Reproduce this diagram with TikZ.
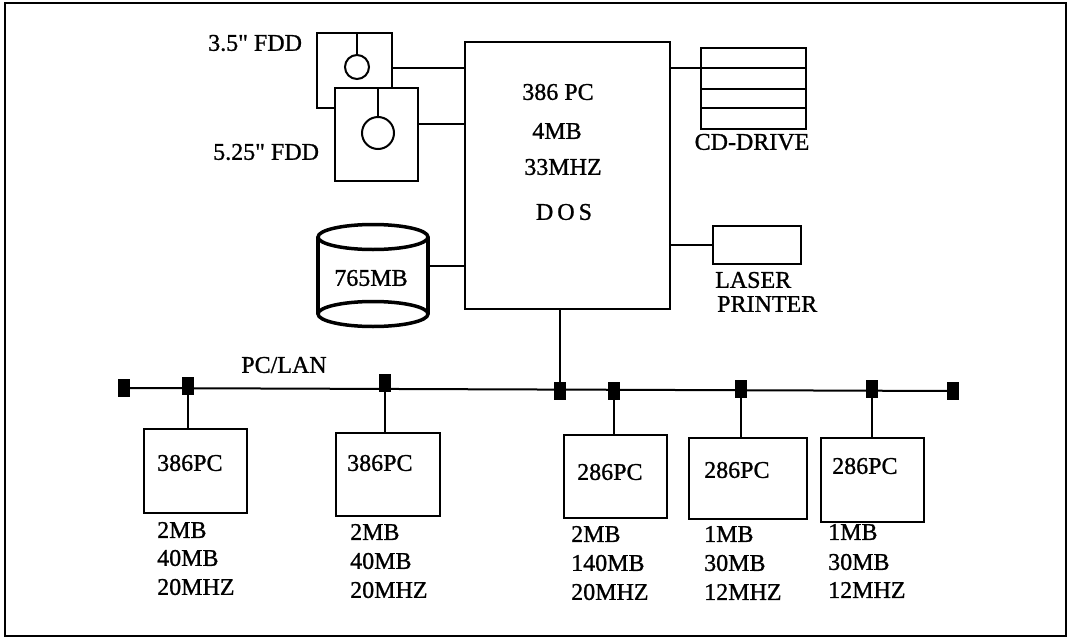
\documentclass[tikz,border=0pt]{standalone}
\usepackage{fontspec}
\setmainfont[FakeBold=1]{Liberation Serif}
\newfontfamily\rawserif[Ligatures=TeXOff,FakeBold=1]{Liberation Serif}
\begin{document}
\begin{tikzpicture}[x=1pt,y=-1pt,
  box/.style={draw,line width=2pt,fill=white,inner sep=0pt,anchor=north west},
  txt/.style={inner sep=0pt,font=\fontsize{24}{28}\selectfont},
  term/.style={fill=black,draw=none,minimum width=12pt,minimum height=18pt,inner sep=0pt},
  conn/.style={line width=2pt},
  thick line/.style={line width=3.5pt}]
\useasboundingbox (0,0) rectangle (1072,643);
\draw[line width=2pt] (5,3) rectangle (1066,636);

% floppy drives
\node[box,minimum width=75pt,minimum height=75pt] (fdd1) at (316,32) {};
\draw[conn] (357,32) -- (357,55);
\draw[conn] (357,67) circle (12);
\node[box,minimum width=83pt,minimum height=93pt] (fdd2) at (334,87) {};
\draw[conn] (378,87) -- (378,117);
\draw[conn] (378,133) circle (16);
\node[txt,anchor=west] (l35) at (208,43) {3.5{\rawserif"} FDD};
\node[txt,anchor=west] (l525) at (213,152) {5.25{\rawserif"} FDD};

% main PC
\node[box,minimum width=205pt,minimum height=267pt] (main) at (464,41) {};
\node[txt] (m1) at (558,92) {386 PC};
\node[txt] (m2) at (557,131) {4MB};
\node[txt] (m3) at (563,167) {33MHZ};
\node[txt] (m4) at (564,212) {D\,O\,S};

\draw[conn] ([yshift=2.5pt]fdd1.east) -- ([yshift=2.5pt]fdd1.east -| main.west);
\draw[conn] ([yshift=10.5pt]fdd2.east) -- ([yshift=10.5pt]fdd2.east -| main.west);

% CD drive
\node[box,minimum width=105pt,minimum height=81pt] (cd) at (700,47) {};
\draw[conn] (700,68) -- (805,68);
\draw[conn] (700,89) -- (805,89);
\draw[conn] (700,108) -- (805,108);
\draw[conn] (main.east |- 0,68) -- (cd.west |- 0,68);
\node[txt] (lcd) at (752,142) {CD-DRIVE};

% laser printer
\node[box,minimum width=88pt,minimum height=38pt] (lp) at (712,225) {};
\draw[conn] (lp.west) -- (lp.west -| main.east);
\node[txt,anchor=west] (llp1) at (715,280) {LASER};
\node[txt,anchor=west] (llp2) at (717,304) {PRINTER};

% disk cylinder
\node[inner sep=0pt,minimum width=110pt,minimum height=102pt] (disk) at (373,276) {};
\draw[thick line] (318,237) -- (318,314);
\draw[thick line] (428,237) -- (428,314);
\draw[thick line] (373,237) ellipse (55 and 12.5);
\draw[thick line,fill=white] (373,314) ellipse (55 and 12.5);
\node[txt] (ldisk) at (371,278) {765MB};
\draw[conn] ([yshift=10pt]disk.east) -- ([yshift=10pt]disk.east -| main.west);

% LAN bus
\node[term] (t0) at (124,388) {};
\node[term] (t1) at (188,386) {};
\node[term] (t2) at (385,383) {};
\node[term] (t3) at (560,391) {};
\node[term] (t4) at (614,391) {};
\node[term] (t5) at (741,389) {};
\node[term] (t6) at (872,389) {};
\node[term] (t7) at (953,391) {};
\draw[conn] (t0.center) -- (t7.center);
\draw[conn] (main.south -| t3) -- (t3);
\node[txt] (llan) at (284,365) {PC/LAN};

% workstations
\node[box,minimum width=103pt,minimum height=84pt] (pc1) at (143,428) {};
\node[box,minimum width=104pt,minimum height=83pt] (pc2) at (335,432) {};
\node[box,minimum width=103pt,minimum height=83pt] (pc3) at (563,434) {};
\node[box,minimum width=118pt,minimum height=81pt] (pc4) at (688,437) {};
\node[box,minimum width=103pt,minimum height=84pt] (pc5) at (820,437) {};
\draw[conn] (t1) -- (t1 |- pc1.north);
\draw[conn] (t2) -- (t2 |- pc2.north);
\draw[conn] (t4) -- (t4 |- pc3.north);
\draw[conn] (t5) -- (t5 |- pc4.north);
\draw[conn] (t6) -- (t6 |- pc5.north);

\node[txt,anchor=west] (n1) at (157,463) {386PC};
\node[txt,anchor=west] (n2) at (347,463) {386PC};
\node[txt,anchor=west] (n3) at (577,472) {286PC};
\node[txt,anchor=west] (n4) at (704,470) {286PC};
\node[txt,anchor=west] (n5) at (832,466) {286PC};

\node[txt,anchor=west] (s1a) at (157,530) {2MB};
\node[txt,anchor=west] (s1b) at (157,558) {40MB};
\node[txt,anchor=west] (s1c) at (157,587) {20MHZ};
\node[txt,anchor=west] (s2a) at (350,532) {2MB};
\node[txt,anchor=west] (s2b) at (350,561) {40MB};
\node[txt,anchor=west] (s2c) at (350,590) {20MHZ};
\node[txt,anchor=west] (s3a) at (571,534) {2MB};
\node[txt,anchor=west] (s3b) at (571,563) {140MB};
\node[txt,anchor=west] (s3c) at (571,592) {20MHZ};
\node[txt,anchor=west] (s4a) at (704,534) {1MB};
\node[txt,anchor=west] (s4b) at (704,563) {30MB};
\node[txt,anchor=west] (s4c) at (704,592) {12MHZ};
\node[txt,anchor=west] (s5a) at (828,532) {1MB};
\node[txt,anchor=west] (s5b) at (828,562) {30MB};
\node[txt,anchor=west] (s5c) at (828,590) {12MHZ};
\end{tikzpicture}
\end{document}
